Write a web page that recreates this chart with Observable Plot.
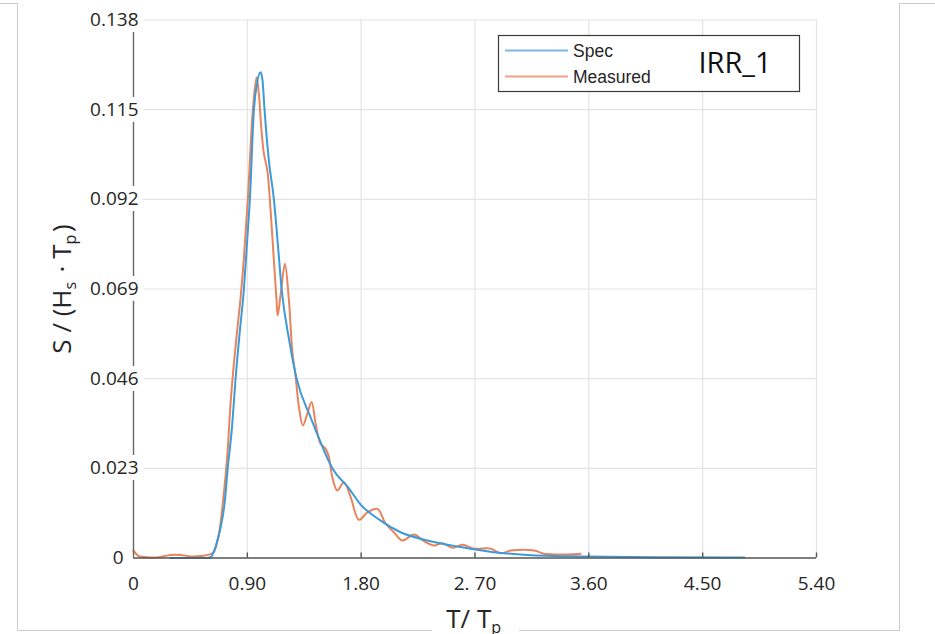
<!DOCTYPE html>
<html><head><meta charset="utf-8">
<script src="https://cdn.jsdelivr.net/npm/d3@7"></script>
<script src="https://cdn.jsdelivr.net/npm/@observablehq/plot@0.6"></script>
<style>
html,body{margin:0;padding:0;background:#fff;}
#wrap{position:relative;width:935px;height:634px;overflow:hidden;background:#fff;}
.fr{position:absolute;background:#cdcdcd;}
</style></head><body><div id="wrap"></div>
<script>
// ---- data ----
const seriesNames = ["Spec", "Measured"];
const seriesColors = ["#3d9ad9", "#e8845c"];
const legendColors = ["#7ab8e6", "#f0a084"];
const tagLabel = "IRR_1";
const yTitle = "S / (Hs · Tp)";
const xTitle = "T/ Tp";

const specX = [0.29,0.58,0.61,0.65,0.69,0.72,0.745,0.78,0.807,0.84,0.873,0.90,0.92,0.952,0.975,1.005,1.02,1.036,1.07,1.11,1.14,1.171,1.23,1.29,1.40,1.479,1.572,1.70,1.796,1.954,2.112,2.324,2.587,2.848,3.115,3.589,4.09,4.83];
const specY = [0,0,0.0002,0.003,0.008,0.014,0.023,0.034,0.046,0.058,0.069,0.082,0.092,0.115,0.1215,0.1246,0.1225,0.115,0.102,0.092,0.081,0.069,0.056,0.046,0.0361,0.0297,0.023,0.018,0.0137,0.0096,0.0066,0.0045,0.0028,0.0015,0.0008,0.0004,0.0002,0.0001];

const measX = [0,0.04,0.1,0.2,0.293,0.372,0.451,0.554,0.61,0.635,0.675,0.714,0.741,0.767,0.794,0.82,0.846,0.873,0.904,0.944,0.973,0.991,1.010,1.031,1.058,1.084,1.110,1.131,1.140,1.165,1.197,1.229,1.255,1.282,1.308,1.339,1.374,1.408,1.440,1.479,1.519,1.545,1.572,1.612,1.664,1.717,1.782,1.849,1.928,1.994,2.059,2.126,2.218,2.297,2.376,2.442,2.521,2.601,2.692,2.824,2.903,2.983,3.167,3.246,3.431,3.536];
const measY = [0.0019,0.0005,0.0002,0.0002,0.0008,0.0008,0.0004,0.0006,0.0010,0.0015,0.0062,0.0165,0.026,0.0395,0.050,0.0585,0.0665,0.077,0.092,0.115,0.1233,0.1191,0.1105,0.1037,0.0994,0.0891,0.0763,0.066,0.0622,0.068,0.0755,0.066,0.0532,0.0464,0.0387,0.034,0.037,0.040,0.0344,0.0293,0.028,0.0259,0.0207,0.0173,0.0194,0.0156,0.0098,0.0117,0.0126,0.0088,0.0066,0.0045,0.006,0.0043,0.0032,0.0038,0.0026,0.0034,0.0024,0.0024,0.0012,0.0019,0.0019,0.0011,0.0009,0.0011];

const xTicks = [0, 0.9, 1.8, 2.7, 3.6, 4.5, 5.4];
const xTickLabels = ["0", "0.90", "1.80", "2. 70", "3.60", "4.50", "5.40"];
const yTicks = [0, 0.023, 0.046, 0.069, 0.092, 0.115, 0.138];
const yTickLabels = ["0", "0.023", "0.046", "0.069", "0.092", "0.115", "0.138"];

const spec = specX.map((x, i) => ({x, y: specY[i]}));
const meas = measX.map((x, i) => ({x, y: measY[i]}));

const txt = "#262626";
const chart = Plot.plot({
  width: 935, height: 634,
  marginLeft: 133, marginRight: 119, marginTop: 19.5, marginBottom: 76.5,
  x: {domain: [0, 5.4], axis: null},
  y: {domain: [0, 0.138], axis: null},
  style: {fontFamily: "'Open Sans', sans-serif", background: "transparent", overflow: "visible"},
  marks: [
    Plot.ruleX(xTicks.slice(1), {stroke: "#e4e4e4", strokeWidth: 1.2}),
    Plot.ruleY(yTicks.slice(1), {stroke: "#e4e4e4", strokeWidth: 1.2}),
    Plot.line(meas, {x: "x", y: "y", stroke: seriesColors[1], strokeWidth: 2, curve: "catmull-rom"}),
    Plot.line(spec, {x: "x", y: "y", stroke: seriesColors[0], strokeWidth: 2, curve: "monotone-x"}),
    Plot.ruleY([0], {stroke: "#555", strokeWidth: 1.4}),
    Plot.ruleX([0], {stroke: "#666", strokeWidth: 1.4}),
    Plot.ruleX(xTicks.slice(1), {y1: 0, y2: 0, insetTop: -5, stroke: "#555", strokeWidth: 1.4}),
    Plot.text(xTickLabels, {x: (d, i) => xTicks[i], y: 0, text: d => d, dy: 26, fontSize: 19, fill: txt}),
    Plot.text(yTickLabels.slice(1), {x: 0, y: (d, i) => yTicks[i + 1], text: d => d, textAnchor: "end", dx: 5,
      fontSize: 19, fill: txt, stroke: "white", strokeWidth: 12}),
    Plot.text(yTickLabels.slice(0, 1), {x: 0, y: 0, text: d => d, textAnchor: "end", dx: -10, fontSize: 19, fill: txt}),
    Plot.text([yTitle], {frameAnchor: "left", textAnchor: "middle", dx: -71, rotate: -90, fontSize: 26, fill: txt}),
    Plot.text([xTitle], {frameAnchor: "bottom", textAnchor: "middle", lineAnchor: "middle", dy: 62, fontSize: 26, fill: txt, stroke: "white", strokeWidth: 8})
  ]
});

const wrap = document.getElementById("wrap");
wrap.appendChild(chart);
const svg = d3.select(chart);

// subscripts in axis titles
function subs(content, parts) {
  svg.selectAll("text").filter(function () { return this.textContent === content; }).each(function () {
    const t = d3.select(this);
    t.text(null);
    parts.forEach(([s, sub]) => {
      if (sub) {
        t.append("tspan").attr("dy", "0.32em").attr("font-size", "0.62em").text(s);
        t.append("tspan").attr("dy", "-0.2em").text("\u200a");
      } else t.append("tspan").text(s);
    });
  });
}
subs(yTitle, [["S / (H"], ["s", 1], [" · T"], ["p", 1], [")"]]);
subs(xTitle, [["T/ T"], ["p", 1]]);

// legend box
const lg = svg.append("g").attr("text-anchor", "start");
lg.append("rect").attr("x", 498.5).attr("y", 35.5).attr("width", 301).attr("height", 56)
  .attr("fill", "white").attr("stroke", "#3a3a3a").attr("stroke-width", 1.2);
seriesNames.forEach((name, i) => {
  const yy = 50.5 + i * 26;
  lg.append("line").attr("x1", 505).attr("x2", 568).attr("y1", yy).attr("y2", yy)
    .attr("stroke", legendColors[i]).attr("stroke-width", 2);
  lg.append("text").attr("x", 573).attr("y", yy).attr("dy", "0.36em").attr("text-anchor", "start")
    .attr("font-family", "'Liberation Sans', Arial, sans-serif").attr("font-size", 17.5)
    .attr("fill", txt).text(name);
});
lg.append("text").attr("x", 735).attr("y", 63).attr("dy", "0.36em").attr("text-anchor", "middle")
  .attr("font-family", "'Open Sans', sans-serif").attr("font-size", 29).attr("fill", "#111").text(tagLabel);

// outer page frame
[[17, 3, 1, 627], [899, 3, 1, 627], [0, 3, 18, 1], [899, 3, 36, 1], [17, 630, 415, 1], [519, 630, 381, 1]]
  .forEach(([l, t, w, h]) => {
    const d = document.createElement("div");
    d.className = "fr";
    Object.assign(d.style, {left: l + "px", top: t + "px", width: w + "px", height: h + "px"});
    wrap.appendChild(d);
  });
</script></body></html>
